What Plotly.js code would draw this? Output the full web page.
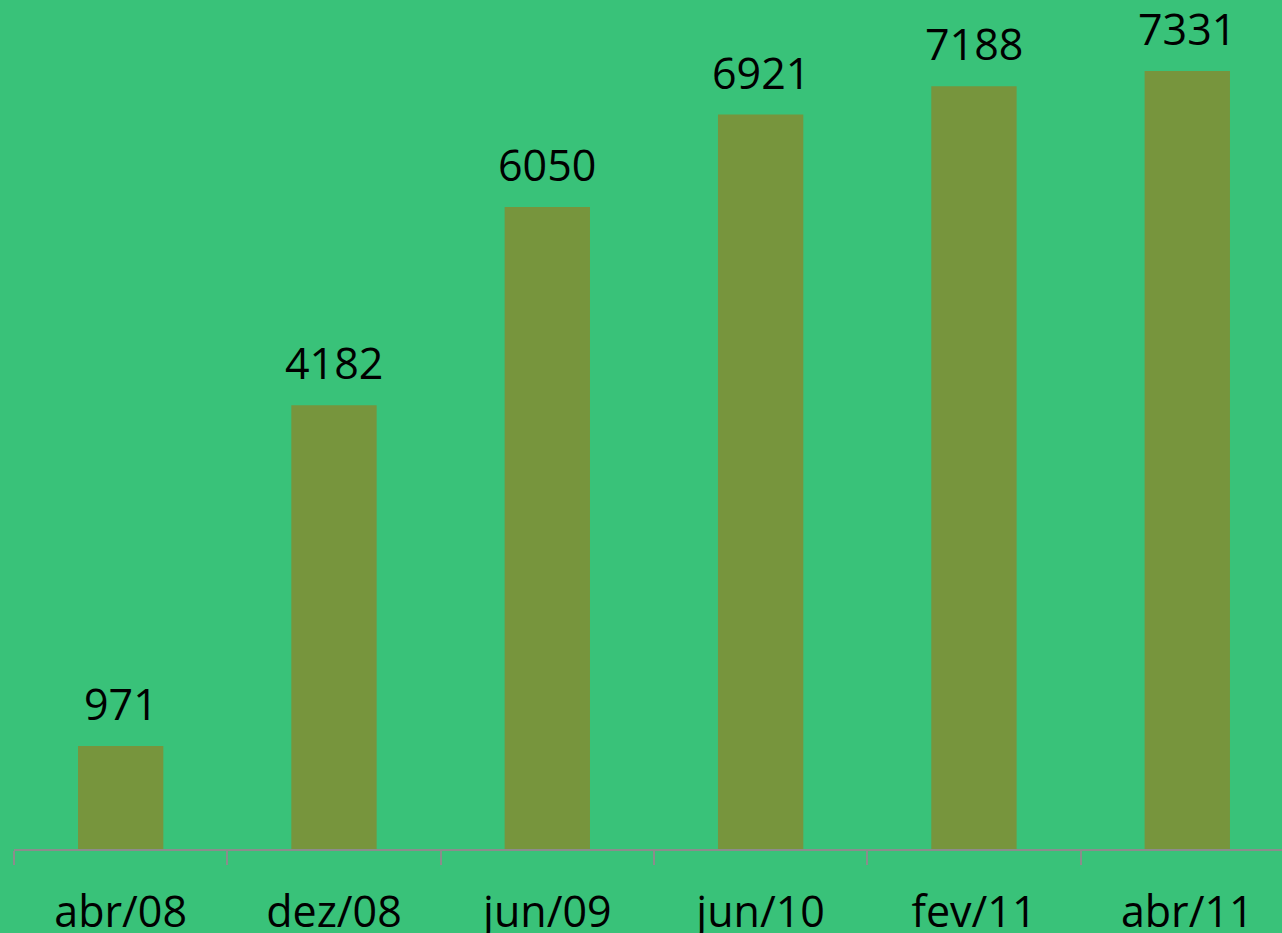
<!DOCTYPE html>
<html>
<head>
<meta charset="utf-8">
<script src="https://cdn.plot.ly/plotly-3.0.1.min.js"></script>
<style>
html,body{margin:0;padding:0;background:#39C279;}
#chart{width:1282px;height:933px;}
</style>
</head>
<body>
<div id="chart"></div>
<script>
const categories = ["abr/08", "dez/08", "jun/09", "jun/10", "fev/11", "abr/11"];
const values = [971, 4182, 6050, 6921, 7188, 7331];

const bg = "#39C279";
const barColor = "#77953D";
const font = "Open Sans, Lato, sans-serif";

const trace = {
  type: "bar",
  x: categories,
  y: values,
  width: 0.4,
  marker: {color: barColor, line: {width: 0}},
  hoverinfo: "skip"
};

const annotations = categories.map((c, i) => ({
  x: c,
  y: values[i],
  text: String(values[i]),
  showarrow: false,
  xanchor: "center",
  yanchor: "bottom",
  yshift: 11,
  font: {family: font, size: 43, color: "#000000"}
}));

const layout = {
  width: 1282,
  height: 933,
  margin: {l: 14, r: 0, t: 0, b: 84},
  paper_bgcolor: bg,
  plot_bgcolor: bg,
  showlegend: false,
  xaxis: {
    type: "category",
    range: [-0.5, 5.444],
    showline: true,
    linecolor: "#8C8C8C",
    linewidth: 2,
    ticks: "outside",
    tickson: "boundaries",
    ticklen: 14,
    tickcolor: "#8C8C8C",
    tickwidth: 2,
    ticklabelstandoff: 24,
    showgrid: false,
    tickfont: {family: font, size: 43, color: "#000000"},
    fixedrange: true
  },
  yaxis: {
    range: [0, 8000],
    visible: false,
    showgrid: false,
    zeroline: false,
    fixedrange: true
  },
  annotations: annotations
};

Plotly.newPlot("chart", [trace], layout, {displayModeBar: false, staticPlot: true});
</script>
</body>
</html>
